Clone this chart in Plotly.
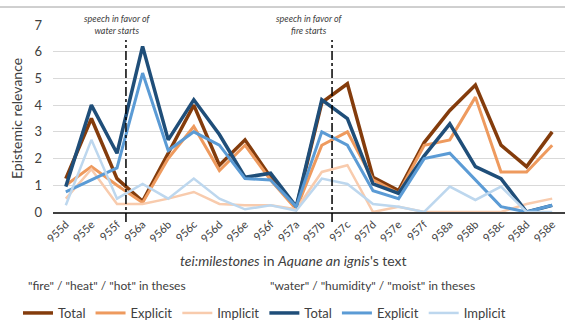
import plotly.graph_objects as go

categories = ["955d", "955e", "955f", "956a", "956b", "956c", "956d", "956e", "956f", "957a",
              "957b", "957c", "957d", "957e", "957f", "958a", "958b", "958c", "958d", "958e"]

fire_total    = [1.25, 3.5, 1.25, 0.4, 2.2, 4.0, 1.75, 2.7, 1.3, 0.15, 4.1, 4.8, 1.3, 0.8, 2.6, 3.8, 4.75, 2.5, 1.7, 3.0]
fire_explicit = [1.0, 1.7, 1.0, 0.35, 2.0, 3.2, 1.55, 2.5, 1.2, 0.1, 2.5, 3.0, 1.2, 0.7, 2.5, 2.7, 4.3, 1.5, 1.5, 2.5]
fire_implicit = [0.5, 1.6, 0.3, 0.3, 0.5, 0.75, 0.3, 0.25, 0.25, 0.1, 1.5, 1.75, 0.0, 0.2, 0.0, 0.0, 0.0, 0.0, 0.3, 0.5]

water_total    = [0.95, 4.0, 2.2, 6.2, 2.7, 4.2, 2.9, 1.3, 1.45, 0.2, 4.2, 3.5, 1.05, 0.7, 2.1, 3.3, 1.7, 1.25, 0.0, 0.25]
water_explicit = [0.75, 1.2, 1.65, 5.2, 2.3, 3.0, 2.5, 1.25, 1.2, 0.2, 3.0, 2.5, 0.8, 0.5, 2.0, 2.2, 1.2, 0.2, 0.0, 0.25]
water_implicit = [0.25, 2.7, 0.5, 1.05, 0.5, 1.25, 0.5, 0.1, 0.25, 0.05, 1.25, 1.05, 0.3, 0.2, 0.0, 0.95, 0.45, 0.95, 0.0, 0.0]

series = [
    ("Total", fire_total, "#843C0C", 3.5),
    ("Explicit", fire_explicit, "#EE9A5E", 3.0),
    ("Implicit", fire_implicit, "#F8CBAD", 2.5),
    ("Total", water_total, "#1F4E79", 3.5),
    ("Explicit", water_explicit, "#5B9BD5", 3.0),
    ("Implicit", water_implicit, "#BDD7EE", 2.5),
]

FONT = "Lato"
TXT = "#404040"

W, H = 567, 322
ml, mr, mt, mb = 53, 2, 25, 110
PW, PH = W - ml - mr, H - mt - mb


def px_x(x):
    return (x - ml) / PW


def px_y(y):
    return (H - mb - y) / PH


fig = go.Figure()
for name, vals, col, w in series:
    fig.add_trace(go.Scatter(x=categories, y=vals, mode="lines", name=name,
                             line=dict(color=col, width=w)))

fig.update_layout(
    width=W, height=H,
    margin=dict(l=ml, r=mr, t=mt, b=mb),
    paper_bgcolor="white", plot_bgcolor="white",
    font=dict(family=FONT, color=TXT, size=12),
    xaxis=dict(type="category", tickangle=-45, tickfont=dict(size=11, color=TXT),
               showgrid=False, showline=True, linecolor="#404040", linewidth=1.5,
               ticks="", range=[-0.5, 19.5]),
    yaxis=dict(range=[0, 7], dtick=1, showgrid=True, gridcolor="#D9D9D9",
               gridwidth=1, zeroline=False, tickfont=dict(size=13, color=TXT),
               title=dict(text="Epistemic relevance", font=dict(size=14, color=TXT), standoff=8),
               ticks="", ticklabelstandoff=10),
    legend=dict(orientation="h", xref="container", yref="container",
                x=18 / W, y=1 - 313 / H, xanchor="left", yanchor="middle",
                font=dict(size=13, color=TXT), itemwidth=30,
                tracegroupgap=0, bgcolor="rgba(0,0,0,0)"),
    showlegend=True,
)

# dashed vertical markers
for xpos in [2.35, 10.4]:
    fig.add_shape(type="line", xref="x", yref="paper", x0=xpos, x1=xpos,
                  y0=px_y(222), y1=px_y(40),
                  line=dict(color="black", width=1.5, dash="dashdot"))

fig.add_annotation(xref="x", yref="paper", x=2.0, y=px_y(11), yanchor="top",
                   text="<i>speech in favor of<br>water starts</i>", showarrow=False,
                   font=dict(size=9, color=TXT))
fig.add_annotation(xref="x", yref="paper", x=9.5, y=px_y(11), yanchor="top",
                   text="<i>speech in favor of<br>fire starts</i>", showarrow=False,
                   font=dict(size=9, color=TXT))

# x axis title
fig.add_annotation(xref="paper", yref="paper", x=px_x(293), y=px_y(271),
                   text="<i>tei:milestones</i> in <i>Aquane an ignis</i>'s text",
                   showarrow=False, font=dict(size=14, color=TXT))

# legend group titles
fig.add_annotation(xref="paper", yref="paper", x=px_x(26), y=px_y(295),
                   xanchor="left", text='"fire" / "heat" / "hot" in theses',
                   showarrow=False, font=dict(size=12, color=TXT))
fig.add_annotation(xref="paper", yref="paper", x=px_x(268), y=px_y(295),
                   xanchor="left", text='"water" / "humidity" / "moist" in theses',
                   showarrow=False, font=dict(size=12, color=TXT))

# top frame line
fig.add_shape(type="line", xref="paper", yref="paper", x0=px_x(0), x1=1,
              y0=px_y(7), y1=px_y(7),
              line=dict(color="#A0A0A0", width=1))

fig.write_html("out.html")
